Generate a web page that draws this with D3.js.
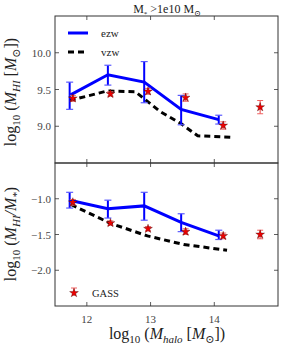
<!DOCTYPE html>
<html>
<head>
<meta charset="utf-8">
<script src="https://cdn.jsdelivr.net/npm/d3@7"></script>
<style>
  body { margin: 0; background: #fff; }
  text { font-family: "Liberation Serif", "DejaVu Serif", serif; fill: #222; }
</style>
</head>
<body>
<div id="chart"></div>
<script>
// halo mass bins
var haloX = [11.73, 12.33, 12.9, 13.48, 14.07];
// ezw model, top panel (log MHI) with error range
var ezwHI = [9.42, 9.70, 9.60, 9.23, 9.09];
var ezwHILo = [9.23, 9.56, 9.32, 9.02, 9.03];
var ezwHIHi = [9.60, 9.83, 9.88, 9.42, 9.15];
// vzw model, top panel
var vzwHIX = [11.73, 12.32, 12.76, 13.15, 13.47, 13.74, 14.26];
var vzwHI = [9.35, 9.48, 9.47, 9.20, 9.04, 8.87, 8.85];
// GASS points
var gassX = [11.78, 12.37, 12.96, 13.55, 14.14, 14.72];
var gassHI = [9.38, 9.44, 9.475, 9.39, 9.01, 9.26];
var gassHIErr = [0.04, 0.03, 0.04, 0.05, 0.05, 0.09];
// bottom panel (log MHI/M*)
var ezwFr = [-1.02, -1.14, -1.10, -1.33, -1.52];
var ezwFrLo = [-1.13, -1.27, -1.30, -1.46, -1.57];
var ezwFrHi = [-0.91, -1.02, -0.91, -1.21, -1.44];
var vzwFrX = [11.75, 12.36, 12.95, 13.52, 14.2];
var vzwFr = [-1.08, -1.34, -1.52, -1.64, -1.72];
var gassFr = [-1.05, -1.34, -1.42, -1.46, -1.52, -1.50];
var gassFrErr = [0.04, 0.03, 0.03, 0.04, 0.04, 0.06];

var xTicks = [12, 13, 14];
var topTicks = [9.0, 9.5, 10.0];
var botTicks = [-2.0, -1.5, -1.0];

var W = 284, H = 349;
var left = 55, right = 278;
var starSize = 24;
var svg = d3.select("#chart").append("svg").attr("width", W).attr("height", H);

var x = d3.scaleLinear().domain([11.5, 15]).range([left, right]);
var yTop = d3.scaleLinear().domain([8.5, 10.5]).range([163, 16]);
var yBot = d3.scaleLinear().domain([-2.5, -0.5]).range([306, 163]);

var fmt = function (d) { return d3.format(".1f")(d).replace("-", "\u2212"); };

function panel(y, ticks) {
    var g = svg.append("g");
    var y0 = y.range()[0], y1 = y.range()[1];
    // ticks inward on all four sides
    xTicks.forEach(function (t) {
        g.append("line").attr("x1", x(t)).attr("x2", x(t)).attr("y1", y0).attr("y2", y0 - 4)
            .attr("stroke", "#333").attr("stroke-width", 0.8);
        g.append("line").attr("x1", x(t)).attr("x2", x(t)).attr("y1", y1).attr("y2", y1 + 4)
            .attr("stroke", "#333").attr("stroke-width", 0.8);
    });
    ticks.forEach(function (t) {
        g.append("line").attr("x1", left).attr("x2", left + 4).attr("y1", y(t)).attr("y2", y(t))
            .attr("stroke", "#333").attr("stroke-width", 0.8);
        g.append("line").attr("x1", right).attr("x2", right - 4).attr("y1", y(t)).attr("y2", y(t))
            .attr("stroke", "#333").attr("stroke-width", 0.8);
        g.append("text").attr("x", left - 4).attr("y", y(t) + 4).attr("text-anchor", "end")
            .style("font-size", "11px").style("fill", "#444").text(fmt(t));
    });
    return g;
}

function drawData(y, ezw, lo, hi, vx, vy, gy, gerr) {
    var g = svg.append("g");
    var vline = d3.line().x(function (d) { return x(d[0]); }).y(function (d) { return y(d[1]); });
    g.append("path").datum(d3.zip(vx, vy)).attr("d", vline)
        .attr("fill", "none").attr("stroke", "#000").attr("stroke-width", 3).attr("stroke-dasharray", "6,4");
    g.append("path").datum(d3.zip(haloX, ezw)).attr("d", vline)
        .attr("fill", "none").attr("stroke", "#0000ff").attr("stroke-width", 3);
    haloX.forEach(function (hx, i) {
        g.append("line").attr("x1", x(hx)).attr("x2", x(hx)).attr("y1", y(lo[i])).attr("y2", y(hi[i]))
            .attr("stroke", "#0000ff").attr("stroke-width", 2);
        [lo[i], hi[i]].forEach(function (v) {
            g.append("line").attr("x1", x(hx) - 3.5).attr("x2", x(hx) + 3.5).attr("y1", y(v)).attr("y2", y(v))
                .attr("stroke", "#5a5aff").attr("stroke-width", 1.2);
        });
    });
    gassX.forEach(function (gx, i) {
        g.append("line").attr("x1", x(gx)).attr("x2", x(gx)).attr("y1", y(gy[i] - gerr[i])).attr("y2", y(gy[i] + gerr[i]))
            .attr("stroke", "#f06060").attr("stroke-width", 1.2);
        [gy[i] - gerr[i], gy[i] + gerr[i]].forEach(function (v) {
            g.append("line").attr("x1", x(gx) - 3).attr("x2", x(gx) + 3).attr("y1", y(v)).attr("y2", y(v))
                .attr("stroke", "#f06060").attr("stroke-width", 1);
        });
        g.append("path").attr("d", d3.symbol(d3.symbolStar, starSize)())
            .attr("transform", "translate(" + x(gx) + "," + y(gy[i]) + ")")
            .attr("fill", "#ee0000").attr("stroke", "#300").attr("stroke-width", 0.35);
    });
}

panel(yTop, topTicks);
panel(yBot, botTicks);
drawData(yTop, ezwHI, ezwHILo, ezwHIHi, vzwHIX, vzwHI, gassHI, gassHIErr);
drawData(yBot, ezwFr, ezwFrLo, ezwFrHi, vzwFrX, vzwFr, gassFr, gassFrErr);

// frames
svg.append("rect").attr("x", left).attr("y", 16).attr("width", right - left).attr("height", 147)
    .attr("fill", "none").attr("stroke", "#333").attr("stroke-width", 1);
svg.append("rect").attr("x", left).attr("y", 163).attr("width", right - left).attr("height", 143)
    .attr("fill", "none").attr("stroke", "#333").attr("stroke-width", 1);

// x tick labels
xTicks.forEach(function (t) {
    svg.append("text").attr("x", x(t)).attr("y", 323).attr("text-anchor", "middle")
        .style("font-size", "11px").style("fill", "#444").text(t);
});

// legends
svg.append("line").attr("x1", 68).attr("x2", 88).attr("y1", 33).attr("y2", 33)
    .attr("stroke", "#0000ff").attr("stroke-width", 3);
svg.append("text").attr("x", 101).attr("y", 37).style("font-size", "11px").text("ezw");
svg.append("line").attr("x1", 68).attr("x2", 88).attr("y1", 52).attr("y2", 52)
    .attr("stroke", "#000").attr("stroke-width", 3).attr("stroke-dasharray", "6,4");
svg.append("text").attr("x", 101).attr("y", 56).style("font-size", "11px").text("vzw");
svg.append("line").attr("x1", 74).attr("x2", 74).attr("y1", 288).attr("y2", 296)
    .attr("stroke", "#f06060").attr("stroke-width", 1.2);
svg.append("line").attr("x1", 71).attr("x2", 77).attr("y1", 288).attr("y2", 288)
    .attr("stroke", "#f06060").attr("stroke-width", 1);
svg.append("path").attr("d", d3.symbol(d3.symbolStar, starSize)()).attr("transform", "translate(74,293)")
    .attr("fill", "#ee0000").attr("stroke", "#300").attr("stroke-width", 0.35);
svg.append("text").attr("x", 92).attr("y", 297).style("font-size", "10.5px").text("GASS");

// title
var title = svg.append("text").attr("x", 167).attr("y", 13).attr("text-anchor", "middle").style("font-size", "12px");
title.append("tspan").text("M");
title.append("tspan").attr("dy", 3).style("font-size", "7px").text("*");
title.append("tspan").attr("dy", -3).text(" >1e10 M");
title.append("tspan").attr("dy", 3).style("font-size", "8px").text("\u2299");

// axis labels
function mathLabel(sel, parts) {
    parts.forEach(function (p) {
        var t = sel.append("tspan").text(p[0]);
        if (p[1] === "sub") t.attr("dy", 4).style("font-size", "11px");
        if (p[1] === "up") t.attr("dy", -4);
        if (p[2]) t.style("font-style", "italic");
    });
}
var yl1 = svg.append("text").attr("transform", "translate(16,92) rotate(-90)")
    .attr("text-anchor", "middle").style("font-size", "16px");
mathLabel(yl1, [["log", ""], ["10", "sub"], [" (", "up"], ["M", "", 1], ["HI", "sub", 1], [" [", "up"], ["M", "", 1], ["\u2299", "sub"], ["])", "up"]]);
var yl2 = svg.append("text").attr("transform", "translate(16,234) rotate(-90)")
    .attr("text-anchor", "middle").style("font-size", "16px");
mathLabel(yl2, [["log", ""], ["10", "sub"], [" (", "up"], ["M", "", 1], ["HI", "sub", 1], ["/", "up", 1], ["M", "", 1], ["*", "sub", 1], [")", "up"]]);
var xl = svg.append("text").attr("x", 167).attr("y", 339).attr("text-anchor", "middle").style("font-size", "16px");
mathLabel(xl, [["log", ""], ["10", "sub"], [" (", "up"], ["M", "", 1], ["halo", "sub", 1], [" [", "up"], ["M", "", 1], ["\u2299", "sub"], ["])", "up"]]);
</script>
</body>
</html>
